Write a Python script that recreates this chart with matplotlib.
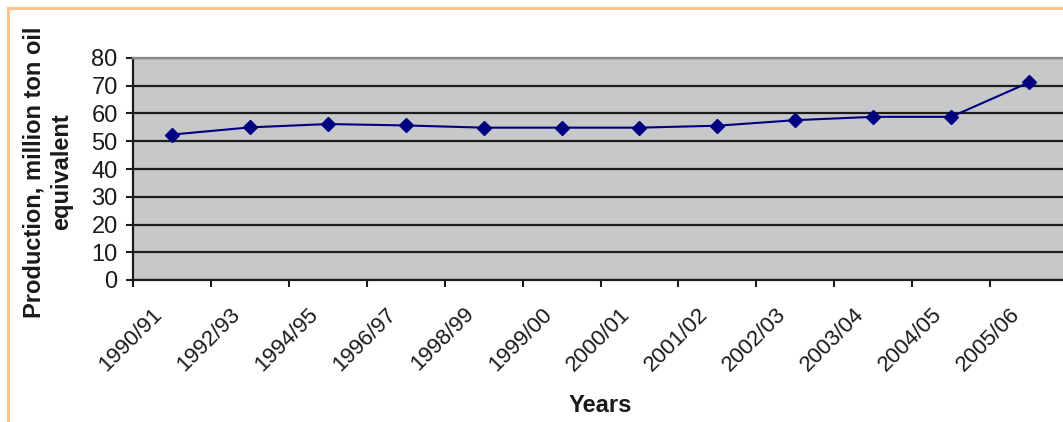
import matplotlib
matplotlib.use('Agg')
import matplotlib.pyplot as plt
import matplotlib.transforms as mtransforms
from matplotlib.patches import Rectangle
import numpy as np

years = ['1990/91', '1992/93', '1994/95', '1996/97', '1998/99', '1999/00',
         '2000/01', '2001/02', '2002/03', '2003/04', '2004/05', '2005/06']
production = [52.4, 55.0, 56.2, 55.7, 54.9, 54.9, 54.9, 55.6, 57.6, 58.8, 58.8, 71.2]
y_ticks = [0, 10, 20, 30, 40, 50, 60, 70, 80]

plt.rcParams['font.family'] = ['Liberation Sans', 'DejaVu Sans']

W, H = 1063, 422
fig = plt.figure(figsize=(W / 100, H / 100), dpi=100)
fig.patch.set_facecolor('white')

# light orange frame (only left and top visible)
fig.patches.append(Rectangle((8 / W, -0.1), 1.2, (H - 7.5) / H + 0.1,
                             transform=fig.transFigure, fill=False,
                             edgecolor='#FBC48E', linewidth=2.2, figure=fig))

ax = fig.add_axes([133 / W, (H - 280) / H, 935 / W, 222 / H])
ax.set_facecolor('#c7c8ca')

n = len(years)
x = np.arange(n)
ax.plot(x, production, color='#000080', lw=1.5, marker='D', ms=7,
        mfc='#000080', mec='#000080', zorder=3, clip_on=False)

ax.set_xlim(-0.5, n - 0.5)
ax.set_ylim(y_ticks[0], y_ticks[-1])
ax.set_yticks(y_ticks)
ax.yaxis.grid(True, color='#1c1c1c', lw=1.6)
ax.set_axisbelow(True)

for side in ['left', 'bottom']:
    ax.spines[side].set_color('#1c1c1c')
    ax.spines[side].set_linewidth(1.6)
ax.spines['top'].set_color('#8c8c8c')
ax.spines['top'].set_linewidth(1.6)
ax.spines['right'].set_visible(False)

ax.tick_params(axis='y', length=5, width=1.5, color='#1c1c1c', pad=6,
               labelsize=17, labelcolor='#1a1a1a')

ax.set_xticks(x)
ax.set_xticklabels(years, rotation=45, ha='right', va='top',
                   rotation_mode='anchor', fontsize=16, color='#1a1a1a')
ax.tick_params(axis='x', which='major', length=0, pad=17)
ax.set_xticks(np.arange(-0.5, n, 1), minor=True)
ax.tick_params(axis='x', which='minor', length=5, width=1.5, color='#1c1c1c')
offset = mtransforms.ScaledTranslation(-20 / 100, 0, fig.dpi_scale_trans)
for lbl in ax.get_xticklabels():
    lbl.set_transform(lbl.get_transform() + offset)

fig.text(48 / W, 1 - 172 / H, 'Production, million ton oil\nequivalent',
         rotation=90, ha='center', va='center', multialignment='center',
         fontsize=17, fontweight='bold', color='#1a1a1a', linespacing=1.27)
fig.text(600 / W, 1 - 405 / H, 'Years', ha='center', va='center',
         fontsize=17, fontweight='bold', color='#1a1a1a')

fig.savefig('out.png', dpi=100, facecolor='white')
